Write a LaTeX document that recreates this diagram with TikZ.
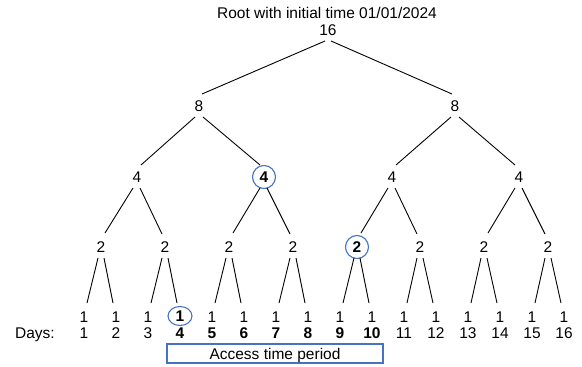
\documentclass[tikz,border=0pt]{standalone}
\usepackage{fontspec}
\setmainfont{Liberation Sans}
\usetikzlibrary{calc,shapes.geometric}
\definecolor{hl}{HTML}{4472C4}
\newcommand\lnk[4]{\draw[edge] ($(#1)+(#3,11)$) -- ($(#2)+(-#3,#4)$);}
\begin{document}
\begin{tikzpicture}[x=1pt,y=-1pt,
  every node/.style={font=\fontsize{15.5}{18}\selectfont, inner sep=0pt, text height=11pt, text depth=0pt},
  num/.style={minimum height=22pt, minimum width=10pt},
  hot/.style={circle, draw=hl, line width=1.1pt, minimum size=23pt, font=\fontsize{15.5}{18}\selectfont\bfseries},
  hotleaf/.style={ellipse, draw=hl, line width=1.1pt, minimum width=24pt, minimum height=19pt, font=\fontsize{15.5}{18}\selectfont\bfseries},
  bd/.style={font=\fontsize{15.5}{18}\selectfont\bfseries},
  edge/.style={line width=0.9pt, black}]
\useasboundingbox (0,0) rectangle (582,367);
\node (title) at (327,12.8) {Root with initial time 01/01/2024};
\node[num] (r) at (328,30) {16};
\node[num] (a1) at (199,106) {8};
\node[num] (a2) at (455,106) {8};
\node[num] (b1) at (137,177) {4};
\node[hot] (b2) at (264,177) {4};
\node[num] (b3) at (392,177) {4};
\node[num] (b4) at (519,177) {4};
\node[num] (c1) at (101,247) {2};
\node[num] (c2) at (165,247) {2};
\node[num] (c3) at (229,247) {2};
\node[num] (c4) at (293,247) {2};
\node[hot] (c5) at (357,247) {2};
\node[num] (c6) at (420,247) {2};
\node[num] (c7) at (484,247) {2};
\node[num] (c8) at (548,247) {2};
\foreach \i in {1,...,16} {
  \pgfmathsetmacro\xx{84+32*(\i-1)}
  \ifnum\i=4
    \node[hotleaf] (l\i) at (\xx,316) {1};
  \else
    \node (l\i) at (\xx,317) {1};
  \fi
}
\foreach \i in {1,2,3,11,12,13,14,15,16} {
  \pgfmathsetmacro\xx{84+32*(\i-1)}
  \node (d\i) at (\xx,333) {\i};
}
\foreach \i in {4,5,6,7,8,9,10} {
  \pgfmathsetmacro\xx{84+32*(\i-1)}
  \node[bd] (d\i) at (\xx,333) {\i};
}
\node (days) at (35,333) {Days:};
\node[draw=hl, line width=1.1pt, minimum width=216pt, minimum height=19pt] (acc) at (275,353.5) {Access time period};
% edges
\lnk{r}{a1}{-3}{-12}
\lnk{r}{a2}{3}{-12}
\lnk{a1}{b1}{-4}{-12}
\lnk{a1}{b2}{4}{-12}
\lnk{a2}{b3}{-4}{-12}
\lnk{a2}{b4}{4}{-12}
\lnk{b1}{c1}{-4}{-14}
\lnk{b1}{c2}{3}{-13}
\lnk{b2}{c3}{-4}{-14}
\lnk{b2}{c4}{3}{-13}
\lnk{b3}{c5}{-4}{-14}
\lnk{b3}{c6}{3}{-13}
\lnk{b4}{c7}{-4}{-14}
\lnk{b4}{c8}{3}{-13}
\lnk{c1}{l1}{-3}{-14}
\lnk{c1}{l2}{3}{-14}
\lnk{c2}{l3}{-3}{-14}
\lnk{c2}{l4}{3}{-13}
\lnk{c3}{l5}{-3}{-14}
\lnk{c3}{l6}{3}{-14}
\lnk{c4}{l7}{-3}{-14}
\lnk{c4}{l8}{3}{-14}
\lnk{c5}{l9}{-3}{-14}
\lnk{c5}{l10}{3}{-14}
\lnk{c6}{l11}{-3}{-14}
\lnk{c6}{l12}{3}{-14}
\lnk{c7}{l13}{-3}{-14}
\lnk{c7}{l14}{3}{-14}
\lnk{c8}{l15}{-3}{-14}
\lnk{c8}{l16}{3}{-14}
\end{tikzpicture}
\end{document}
